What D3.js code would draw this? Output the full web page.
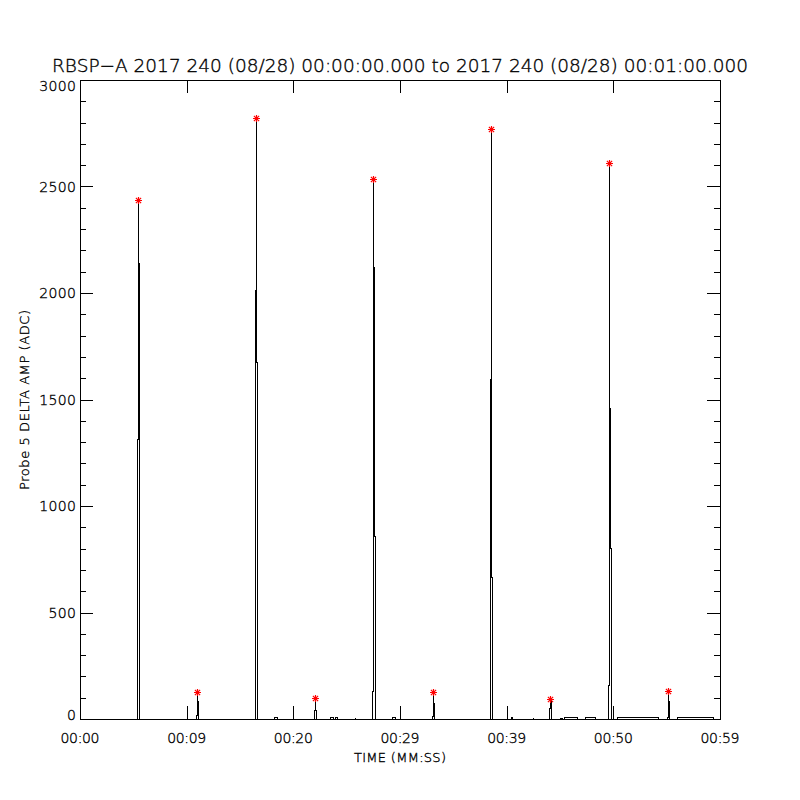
<!DOCTYPE html>
<html>
<head>
<meta charset="utf-8">
<script src="https://cdnjs.cloudflare.com/ajax/libs/d3/7.8.5/d3.min.js"></script>
<style>
  body { margin: 0; background: #fff; }
  svg text { font-family: "DejaVu Sans", sans-serif; font-weight: 200; fill: #000; stroke: #000; stroke-width: 0.35px; }
</style>
</head>
<body>
<svg width="800" height="800"></svg>
<script>

// pulses: start time (s) and consecutive samples (ADC), one sample every dt seconds
const dt = 0.046875
const pulseStart = [5.3625, 10.894, 16.425, 21.956, 27.394, 33.019, 38.456, 43.9875, 49.519, 55.05]
const pulseSamples = [
  [0, 1314, 2435, 2140, 0],
  [0, 15, 125, 80, 15, 0],
  [0, 2010, 2820, 1672, 0],
  [0, 42, 97, 42, 0],
  [0, 128, 2535, 2122, 855, 855, 0],
  [0, 14, 125, 74, 14, 0],
  [0, 1596, 2770, 663, 216, 0],
  [0, 47, 95, 89, 0],
  [0, 156, 2610, 1458, 801, 801, 0],
  [0, 5, 131, 81, 0]
]

// low level noise near the baseline
const noiseStart = [18.28, 23.53, 23.91, 25.80, 29.28, 40.41, 42.48, 45.09, 45.38, 47.37, 50.37, 56.00]
const noiseEnd   = [18.53, 23.72, 24.16, 25.84, 29.60, 40.57, 42.52, 45.28, 46.66, 48.34, 54.22, 59.37]
const noiseLevel = [6, 5, 5, 4, 6, 6, 4, 4, 5, 5, 5, 5]

const dataEnd = 59.4

const xTickValues = [0, 10, 20, 30, 40, 50, 60]
const xTickLabels = ['00:00', '00:09', '00:20', '00:29', '00:39', '00:50', '00:59']
const yMajor = [0, 500, 1000, 1500, 2000, 2500, 3000]
const yMinor = d3.range(0, 3001, 100)

const title = 'RBSP\u2212A 2017 240 (08/28) 00:00:00.000 to 2017 240 (08/28) 00:01:00.000'

let svg = d3.select('svg')
let pL = 80, pR = 720, pT = 80, pB = 719

let x = d3.scaleLinear().domain([0, 60]).range([pL, pR])
let y = d3.scaleLinear().domain([0, 3000]).range([pB, pT])

// build the time series
let events = []
pulseStart.forEach((t, i) => events.push({ t: t, kind: 'pulse', i: i }))
noiseStart.forEach((t, i) => events.push({ t: t, kind: 'noise', i: i }))
events.sort((a, b) => a.t - b.t)

let series = [[0, 0]]
let peaks = []
events.forEach(e => {
  if (e.kind === 'pulse') {
    let s = pulseSamples[e.i]
    let best = 0
    s.forEach((v, k) => {
      series.push([e.t + k * dt, v])
      if (v > s[best]) best = k
    })
    peaks.push([e.t + best * dt, s[best]])
  } else {
    let v = noiseLevel[e.i]
    series.push([noiseStart[e.i], 0], [noiseStart[e.i], v], [noiseEnd[e.i], v], [noiseEnd[e.i], 0])
  }
})
series.push([dataEnd, 0])

// held samples, drawn without smoothing like the device plot
let line = d3.line()
  .x(d => x(d[0]))
  .y(d => y(d[1]))
  .curve(d3.curveStepAfter)

svg.append('path')
  .datum(series)
  .attr('d', line)
  .attr('fill', 'none')
  .attr('stroke', '#000')
  .attr('stroke-width', 1)
  .attr('shape-rendering', 'crispEdges')

// asterisks at the peaks
let star = 'M-3.5,0H3.5M0,-3.5V3.5M-2.6,-2.6L2.6,2.6M-2.6,2.6L2.6,-2.6'
svg.append('g')
  .selectAll('path')
  .data(peaks)
  .enter().append('path')
  .attr('d', star)
  .attr('transform', d => `translate(${Math.floor(x(d[0])) + 0.5},${Math.round(y(d[1])) + 0.5})`)
  .attr('fill', 'none')
  .attr('stroke', '#ff0000')
  .attr('stroke-width', 1.2)

// frame
let frame = svg.append('g')
  .attr('stroke', '#000')
  .attr('stroke-width', 1)
  .attr('shape-rendering', 'crispEdges')

frame.append('rect')
  .attr('x', pL + 0.5).attr('y', pT + 0.5)
  .attr('width', pR - pL).attr('height', pB - pT)
  .attr('fill', 'none')

// y ticks both sides
yMinor.forEach(v => {
  let len = yMajor.includes(v) ? 13 : 6
  let yy = Math.round(y(v)) + 0.5
  frame.append('line').attr('x1', pL).attr('x2', pL + len).attr('y1', yy).attr('y2', yy)
  frame.append('line').attr('x1', pR).attr('x2', pR - len).attr('y1', yy).attr('y2', yy)
})

// x ticks top and bottom
xTickValues.forEach(v => {
  let xx = Math.round(x(v)) + 0.5
  frame.append('line').attr('x1', xx).attr('x2', xx).attr('y1', pB).attr('y2', pB - 13)
  frame.append('line').attr('x1', xx).attr('x2', xx).attr('y1', pT).attr('y2', pT + 13)
})

// labels (end labels kept inside the frame, like the original)
svg.append('g')
  .selectAll('text')
  .data(yMajor)
  .enter().append('text')
  .attr('x', 76)
  .attr('y', d => Math.min(Math.max(y(d), pT + 6), pB - 4))
  .attr('dy', '0.36em')
  .attr('text-anchor', 'end')
  .attr('font-size', 14)
  .attr('textLength', d => String(d).length * 9.2)
  .text(d => d)

svg.append('g')
  .selectAll('text')
  .data(xTickValues)
  .enter().append('text')
  .attr('x', d => x(d))
  .attr('y', 743)
  .attr('text-anchor', 'middle')
  .attr('font-size', 14)
  .attr('textLength', 39)
  .text((d, i) => xTickLabels[i])

svg.append('text')
  .attr('x', 400)
  .attr('y', 762)
  .attr('text-anchor', 'middle')
  .attr('font-size', 13)
  .attr('textLength', 92)
  .text('TIME (MM:SS)')

svg.append('text')
  .attr('transform', 'translate(29,400) rotate(-90)')
  .attr('text-anchor', 'middle')
  .attr('font-size', 13)
  .attr('textLength', 180)
  .text('Probe 5 DELTA AMP (ADC)')

svg.append('text')
  .attr('x', 400)
  .attr('y', 72)
  .attr('text-anchor', 'middle')
  .attr('font-size', 18)
  .attr('textLength', 696)
  .attr('lengthAdjust', 'spacingAndGlyphs')
  .text(title)

</script>
</body>
</html>
